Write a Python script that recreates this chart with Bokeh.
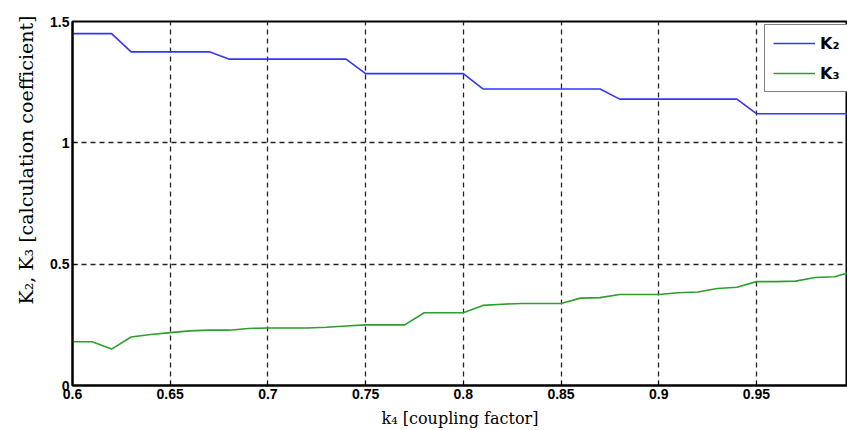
from bokeh.plotting import figure
from bokeh.models import Range1d, FixedTicker, Legend, LegendItem, Title
from bokeh.embed import file_html
from bokeh.resources import INLINE

# ---- data ----
k = [0.60, 0.61, 0.62, 0.63, 0.64, 0.65, 0.66, 0.67, 0.68, 0.69,
     0.70, 0.71, 0.72, 0.73, 0.74, 0.75, 0.76, 0.77, 0.78, 0.79,
     0.80, 0.81, 0.82, 0.83, 0.84, 0.85, 0.86, 0.87, 0.88, 0.89,
     0.90, 0.91, 0.92, 0.93, 0.94, 0.95, 0.96, 0.97, 0.98, 0.99, 1.00]

K2 = [1.45, 1.45, 1.45, 1.375, 1.375, 1.375, 1.375, 1.375, 1.345, 1.345,
      1.345, 1.345, 1.345, 1.345, 1.345, 1.285, 1.285, 1.285, 1.285, 1.285,
      1.285, 1.222, 1.222, 1.222, 1.222, 1.222, 1.222, 1.222, 1.18, 1.18,
      1.18, 1.18, 1.18, 1.18, 1.18, 1.12, 1.12, 1.12, 1.12, 1.12, 1.12]

K3 = [0.18, 0.18, 0.15, 0.20, 0.21, 0.218, 0.225, 0.228, 0.228, 0.235,
      0.237, 0.237, 0.237, 0.24, 0.245, 0.25, 0.25, 0.25, 0.30, 0.30,
      0.30, 0.33, 0.335, 0.338, 0.338, 0.338, 0.36, 0.362, 0.375, 0.375,
      0.375, 0.382, 0.385, 0.40, 0.405, 0.428, 0.428, 0.43, 0.445, 0.448, 0.472]

x_ticks = [0.6, 0.65, 0.7, 0.75, 0.8, 0.85, 0.9, 0.95]
x_tick_labels = ["0.6", "0.65", "0.7", "0.75", "0.8", "0.85", "0.9", "0.95"]
y_ticks = [0, 0.5, 1, 1.5]
y_tick_labels = ["0", "0.5", "1", "1.5"]

series_names = ["K\u2082", "K\u2083"]
x_title = "k\u2084 [coupling factor]"
y_title = "K\u2082, K\u2083 [calculation coefficient]"

# ---- figure ----
p = figure(width=847, height=430, output_backend="svg", toolbar_location=None,
           x_range=Range1d(0.6, 0.9966), y_range=Range1d(0, 1.5),
           min_border_left=72, min_border_right=0, min_border_top=21,
           min_border_bottom=44)
p.background_fill_color = "white"
p.border_fill_color = "white"
p.outline_line_color = "black"
p.outline_line_width = 2

r2 = p.line(k, K2, line_color="#3535ff", line_width=1.6)
r3 = p.line(k, K3, line_color="#2e9e2e", line_width=1.6)

# axes
for ax in (p.xaxis[0], p.yaxis[0]):
    ax.axis_line_color = "black"
    ax.axis_line_width = 2
    ax.major_tick_in = 5
    ax.major_tick_out = 0
    ax.minor_tick_in = 0
    ax.minor_tick_out = 0
    ax.major_tick_line_color = "black"
    ax.major_label_text_font = "Liberation Sans"
    ax.major_label_text_font_style = "bold"
    ax.major_label_text_font_size = "14px"
    ax.major_label_text_color = "black"
    ax.major_label_standoff = 3

p.xaxis.ticker = FixedTicker(ticks=x_ticks)
p.xaxis.major_label_overrides = {t: s for t, s in zip(x_ticks, x_tick_labels)}
p.yaxis.ticker = FixedTicker(ticks=y_ticks)
p.yaxis.major_label_overrides = {t: s for t, s in zip(y_ticks, y_tick_labels)}

p.xaxis.axis_label = x_title
p.xaxis.axis_label_text_font = "DejaVu Serif"
p.xaxis.axis_label_text_font_style = "normal"
p.xaxis.axis_label_text_font_size = "16px"
p.xaxis.axis_label_text_color = "black"
p.xaxis.axis_label_standoff = 7

# y title as a side title (placed toward the top like the reference)
yt = Title(text=y_title, align="right", offset=-6, standoff=21,
           text_font="DejaVu Serif", text_font_style="normal",
           text_font_size="19px", text_color="black")
p.add_layout(yt, "left")

# grid
p.xgrid.ticker = FixedTicker(ticks=x_ticks)
p.ygrid.ticker = FixedTicker(ticks=y_ticks)
for g in (p.xgrid[0], p.ygrid[0]):
    g.grid_line_color = "#222222"
    g.grid_line_dash = "5 4"
    g.grid_line_width = 1.3
    g.grid_line_alpha = 1.0

# legend
legend = Legend(items=[LegendItem(label=series_names[0], renderers=[r2]),
                       LegendItem(label=series_names[1], renderers=[r3])],
                location=(692, 293))
legend.border_line_color = "black"
legend.border_line_width = 1.5
legend.background_fill_color = "white"
legend.background_fill_alpha = 1.0
legend.glyph_width = 42
legend.glyph_height = 20
legend.label_height = 20
legend.label_standoff = 5
legend.padding = 8
legend.spacing = 10
legend.margin = 0
legend.label_text_font = "DejaVu Sans"
legend.label_text_font_style = "bold"
legend.label_text_font_size = "16px"
legend.label_text_color = "black"
p.add_layout(legend)

open("out.html", "w").write(file_html(p, INLINE))
